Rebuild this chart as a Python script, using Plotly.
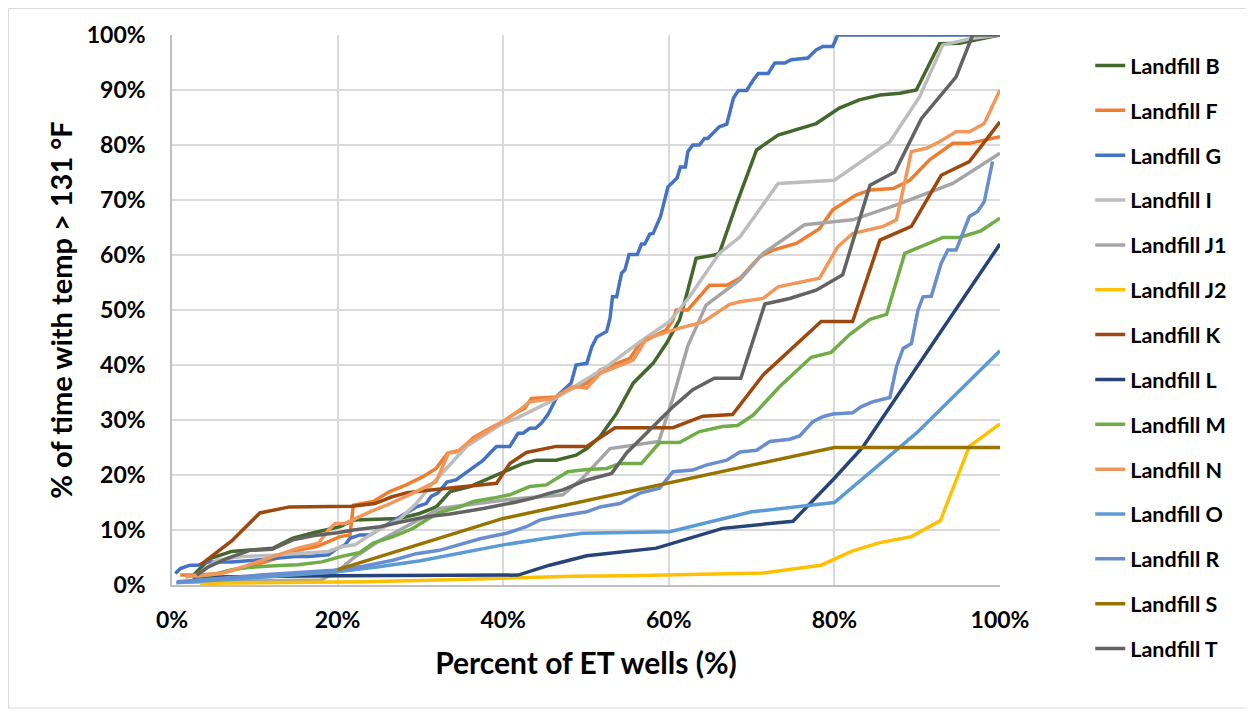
import plotly.graph_objects as go

# ---- data (x = percent of ET wells, y = % of time with temp > 131 F) ----
names = ["Landfill B", "Landfill F", "Landfill G", "Landfill I", "Landfill J1", "Landfill J2",
         "Landfill K", "Landfill L", "Landfill M", "Landfill N", "Landfill O", "Landfill R",
         "Landfill S", "Landfill T"]

colors = ["#43682B", "#ED7D31", "#4472C4", "#BDBDBD", "#A5A5A5", "#FFC000",
          "#9E480E", "#264478", "#70AD47", "#F1975A", "#5B9BD5", "#698ED0",
          "#997300", "#636363"]

b_x = [2.6, 4.6, 7.2, 12.2, 14.6, 17.1, 20.3, 21.9, 27.5, 29.9, 31.9, 33.6, 36.0, 38.8, 40.4, 42.4, 44.0, 46.4,
       48.8, 50.1, 51.7, 53.7, 55.7, 56.5, 58.1, 59.7, 61.3, 62.1, 63.3, 65.5, 66.1, 68.2, 70.6, 73.2, 77.8, 80.6,
       83.0, 85.5, 87.9, 89.9, 92.7, 95.1, 100]
b_y = [1.8, 4.8, 6.1, 6.7, 8.5, 9.5, 10.6, 11.8, 12.1, 13.0, 14.2, 17.0, 17.9, 19.7, 20.9, 22.1, 22.7, 22.7,
       23.6, 24.8, 27.0, 31.2, 36.7, 37.9, 40.3, 43.9, 48.2, 52.5, 59.4, 60.0, 60.3, 69.4, 79.1, 81.8, 83.9, 86.7,
       88.2, 89.1, 89.4, 90.0, 98.4, 98.5, 100]

f_x = [1.0, 3.2, 5.8, 10.6, 13.4, 15.4, 17.5, 20.3, 21.5, 21.9, 24.3, 26.3, 28.3, 30.3, 31.9, 33.3, 34.8, 36.4,
       38.4, 40.0, 41.4, 42.6, 43.4, 46.4, 48.4, 50.1, 51.7, 53.3, 55.3, 56.5, 59.7, 60.5, 60.9, 62.3, 64.9, 67.0,
       68.6, 71.0, 72.6, 75.4, 78.2, 79.8, 82.6, 84.3, 87.1, 89.1, 91.5, 94.3, 96.3, 100]
f_y = [1.8, 1.8, 2.1, 3.9, 5.2, 6.4, 7.0, 8.8, 9.1, 14.5, 15.2, 17.0, 18.2, 19.7, 21.2, 24.0, 24.5, 26.8,
       28.5, 29.7, 31.2, 32.1, 33.9, 34.2, 35.8, 36.7, 39.1, 40.0, 41.2, 43.9, 46.4, 48.2, 50.0, 50.0, 54.5, 54.5,
       55.8, 59.7, 60.9, 62.1, 64.8, 68.2, 70.9, 71.8, 72.1, 73.6, 77.3, 80.3, 80.3, 81.5]

g_x = [0.4, 1.0, 2.2, 3.2, 4.2, 7.2, 10.0, 12.4, 14.8, 16.5, 18.9, 19.7, 20.9, 21.5, 22.7, 23.9, 26.0, 28.5,
       29.5, 30.7, 31.3, 32.1, 33.2, 34.3, 35.4, 36.4, 37.6, 38.4, 39.2, 40.8, 41.8, 42.4, 43.2, 43.9, 44.6, 45.4,
       46.6, 48.2, 48.8, 50.1, 50.7, 51.3, 52.5, 52.9, 53.2, 53.7, 54.3, 54.7, 55.2, 56.2, 56.7, 57.1, 57.7, 58.1,
       59.0, 59.9, 61.0, 61.4, 62.0, 62.3, 62.9, 63.7, 64.3, 64.7, 65.3, 66.1, 67.0, 67.3, 67.8, 68.4, 69.4, 70.2,
       70.8, 72.0, 72.8, 74.0, 74.8, 76.8, 77.8, 78.6, 79.8, 80.4, 100]
g_y = [2.1, 3.0, 3.6, 3.6, 4.2, 4.2, 4.5, 4.8, 5.2, 5.2, 5.5, 6.4, 7.3, 8.5, 9.1, 9.1, 11.0, 13.3,
       14.2, 14.8, 16.1, 16.7, 18.7, 19.1, 20.3, 21.5, 22.7, 24.0, 25.2, 25.2, 27.6, 27.6, 28.5, 28.5, 29.4, 31.0,
       34.5, 36.7, 40.0, 40.3, 43.3, 45.1, 46.1, 48.5, 52.4, 52.4, 56.7, 57.3, 60.1, 60.1, 62.0, 62.0, 63.8, 63.9,
       67.0, 72.4, 74.0, 76.0, 76.0, 78.8, 80.0, 80.0, 81.2, 81.2, 82.1, 83.3, 83.8, 85.8, 88.5, 89.9, 89.9, 91.8,
       93.0, 93.0, 94.9, 94.9, 95.5, 95.8, 97.3, 97.9, 97.9, 100, 100]

i_x = [2.5, 5.4, 8.4, 12.2, 18.9, 20.5, 22.1, 24.3, 27.5, 29.5, 31.5, 35.6, 39.6, 41.6, 45.6, 52.5, 56.5, 60.1,
       62.5, 66.1, 68.6, 73.2, 80.0, 86.7, 90.3, 93.1, 96.7, 100]
i_y = [1.2, 4.5, 5.2, 5.4, 6.1, 7.0, 7.3, 9.5, 12.0, 14.8, 18.5, 25.2, 29.1, 30.3, 33.3, 39.7, 44.2, 47.9,
       52.4, 60.3, 63.3, 73.0, 73.6, 80.6, 88.8, 98.2, 99.4, 100]

j1_x = [1.0, 18.0, 20.0, 22.0, 25.0, 28.0, 30.0, 32.3, 40.4, 47.2, 49.5, 52.9, 56.5, 58.8, 60.5, 62.3, 64.5,
        68.6, 71.4, 76.4, 82.2, 87.5, 94.3, 100]
j1_y = [0.5, 0.9, 2.5, 5.0, 8.0, 10.5, 12.0, 13.9, 15.5, 16.4, 19.3, 24.8, 25.5, 26.1, 34.0, 43.5, 50.9,
        55.5, 60.3, 65.5, 66.4, 69.1, 73.0, 78.5]

j2_x = [3.4, 23.3, 32.3, 41.0, 48.4, 55.0, 60.0, 64.0, 68.6, 71.4, 75.0, 78.4, 82.2, 85.5, 89.3, 92.8, 96.3, 100]
j2_y = [0.3, 0.6, 0.9, 1.3, 1.6, 1.7, 1.9, 2.0, 2.2, 2.2, 2.9, 3.6, 6.2, 7.7, 8.8, 11.7, 25.2, 29.3]

k_x = [3.4, 7.2, 10.6, 14.2, 21.7, 24.5, 26.5, 28.4, 30.7, 34.8, 39.2, 40.8, 42.8, 46.4, 50.1, 53.5, 60.5, 64.1,
       67.7, 71.4, 75.0, 78.4, 82.2, 85.5, 89.3, 92.9, 96.3, 100]
k_y = [3.6, 8.0, 13.1, 14.2, 14.3, 14.8, 16.0, 16.8, 17.2, 17.8, 18.5, 22.1, 24.1, 25.2, 25.2, 28.6, 28.6, 30.7,
       31.0, 38.2, 43.3, 47.9, 47.9, 62.7, 65.2, 74.5, 77.0, 84.2]

l_x = [2.5, 20.0, 41.8, 45.6, 50.1, 58.5, 66.5, 68.6, 75.0, 80.0, 83.4, 100]
l_y = [1.4, 1.7, 1.8, 3.6, 5.3, 6.7, 10.3, 10.6, 11.6, 19.4, 25.0, 62.0]

m_x = [2.8, 5.0, 7.2, 9.2, 12.4, 15.2, 18.1, 20.5, 22.7, 24.3, 26.7, 29.1, 30.7, 32.3, 34.8, 36.4, 38.8, 40.8,
       43.2, 45.2, 47.8, 50.1, 52.5, 54.1, 56.7, 58.9, 61.3, 63.7, 66.5, 68.3, 70.2, 73.4, 77.2, 79.6, 81.8, 84.3,
       86.3, 88.5, 93.1, 95.1, 97.7, 100]
m_y = [1.5, 1.9, 2.8, 3.2, 3.5, 3.7, 4.2, 5.2, 5.9, 7.6, 8.8, 10.3, 11.8, 13.2, 14.2, 15.2, 15.8, 16.4,
       17.9, 18.2, 20.6, 21.0, 21.2, 22.1, 22.1, 25.9, 25.9, 27.9, 28.8, 29.0, 30.9, 36.1, 41.4, 42.3, 45.5, 48.3,
       49.2, 60.3, 63.2, 63.2, 64.4, 66.7]

n_x = [1.6, 6.0, 9.2, 12.4, 15.2, 17.7, 18.9, 19.7, 20.9, 23.9, 25.9, 29.1, 31.9, 33.4, 34.4, 36.0, 38.0, 39.6,
       41.2, 43.2, 46.0, 48.4, 50.1, 51.7, 53.7, 55.7, 57.3, 61.3, 64.1, 67.3, 68.6, 71.4, 73.2, 78.2, 80.4, 82.2,
       85.9, 87.5, 89.3, 91.1, 92.7, 94.7, 96.3, 98.1, 100]
n_y = [1.5, 2.1, 3.6, 5.2, 6.7, 7.6, 10.0, 11.2, 11.2, 13.3, 14.5, 16.7, 18.8, 24.0, 24.2, 26.1, 27.9, 29.4,
       30.9, 33.3, 33.9, 36.1, 35.8, 38.5, 39.7, 40.9, 44.8, 46.7, 47.8, 51.0, 51.5, 52.1, 54.2, 55.8, 61.5, 63.9,
       65.2, 66.4, 78.8, 79.4, 80.6, 82.4, 82.4, 83.9, 90.0]

o_x = [0.5, 10.0, 19.9, 25.0, 30.0, 34.8, 40.0, 45.6, 49.6, 60.1, 66.1, 70.0, 80.0, 89.9, 100]
o_y = [0.4, 1.3, 2.4, 3.3, 4.4, 5.8, 7.3, 8.6, 9.4, 9.7, 11.8, 13.3, 15.0, 27.6, 42.6]

r_x = [0.6, 10.6, 19.5, 22.7, 26.7, 29.5, 32.3, 34.8, 37.2, 40.4, 42.8, 44.4, 46.4, 50.1, 51.7, 54.1, 56.5, 58.9,
       60.5, 62.9, 64.5, 67.0, 68.6, 70.6, 72.2, 74.6, 75.8, 77.4, 78.6, 79.8, 82.2, 83.2, 84.6, 86.7, 87.5, 88.3,
       89.3, 90.1, 90.7, 91.7, 92.9, 93.7, 94.7, 96.3, 97.3, 98.1, 99.1]
r_y = [0.6, 1.8, 2.7, 3.3, 4.5, 5.7, 6.3, 7.3, 8.4, 9.4, 10.6, 11.8, 12.4, 13.3, 14.2, 14.8, 16.7, 17.6,
       20.6, 20.9, 21.8, 22.7, 24.2, 24.5, 26.1, 26.5, 27.1, 29.7, 30.6, 31.1, 31.3, 32.4, 33.3, 34.1, 39.7, 43.0,
       43.9, 50.0, 52.4, 52.5, 58.5, 60.9, 60.9, 67.0, 67.9, 69.7, 77.0]

s_x = [20.0, 40.0, 80.0, 100]
s_y = [2.8, 12.1, 25.0, 25.0]

t_x = [3.0, 4.4, 6.6, 9.4, 12.1, 14.6, 17.2, 20.0, 21.9, 25.1, 27.5, 30.7, 33.6, 37.6, 41.6, 43.6, 45.6, 47.2,
       50.1, 53.1, 54.9, 57.3, 60.5, 62.9, 65.5, 68.7, 71.6, 74.6, 77.8, 81.0, 84.3, 87.3, 90.5, 94.7, 96.7, 100]
t_y = [1.8, 3.3, 4.8, 6.3, 6.5, 8.2, 9.0, 9.5, 10.0, 10.6, 11.4, 12.4, 12.9, 13.9, 15.1, 15.8, 16.7, 17.3,
       19.1, 20.3, 24.0, 27.6, 32.4, 35.5, 37.6, 37.6, 51.1, 52.1, 53.6, 56.4, 72.7, 75.1, 84.8, 92.4, 100, 100]

series_x = [b_x, f_x, g_x, i_x, j1_x, j2_x, k_x, l_x, m_x, n_x, o_x, r_x, s_x, t_x]
series_y = [b_y, f_y, g_y, i_y, j1_y, j2_y, k_y, l_y, m_y, n_y, o_y, r_y, s_y, t_y]

x_ticks = [0, 20, 40, 60, 80, 100]
y_ticks = [0, 10, 20, 30, 40, 50, 60, 70, 80, 90, 100]

FONT = "Lato"
W, H = 1245, 705   # page adds an 8px body margin
L, T = 164, 27
PW, PH = 828.5, 550

fig = go.Figure()
for nm, col, xs, ys in zip(names, colors, series_x, series_y):
    fig.add_trace(go.Scatter(
        x=xs, y=ys, mode="lines", name=nm, legendgroup=nm,
        line=dict(color=col, width=3.5), cliponaxis=False,
    ))

fig.update_layout(
    width=W, height=H,
    margin=dict(l=L, r=W - L - PW, t=T, b=H - T - PH, autoexpand=False),
    paper_bgcolor="white", plot_bgcolor="white",
    font=dict(family=FONT, color="black", size=18, weight="bold"),
    showlegend=True,
    legend=dict(
        x=1.109, y=1 - 37 / H, xanchor="left", yanchor="top", yref="container",
        maxheight=1,
        bgcolor="rgba(0,0,0,0)", borderwidth=0,
        font=dict(family=FONT, size=21.5, color="black", weight="bold"),
        tracegroupgap=13.9,
    ),
    shapes=[dict(type="rect", xref="paper", yref="paper",
                 x0=(0.5 - L) / PW, x1=(1240 - L) / PW,
                 y0=(T + PH - 700) / PH, y1=(T + PH - 0.5) / PH,
                 line=dict(color="#D9D9D9", width=1), layer="below")],
)

fig.update_xaxes(
    range=[0, 100], tickvals=x_ticks, ticktext=[f"{v}%" for v in x_ticks],
    showgrid=True, gridcolor="#D9D9D9", gridwidth=1.5,
    showline=True, linecolor="#BFBFBF", linewidth=1.5,
    zeroline=False, ticks="", ticklabelstandoff=14, automargin=False,
    tickfont=dict(family=FONT, size=23, weight="bold"),
    title=dict(text="Percent of ET wells (%)", font=dict(family=FONT, size=30, weight="bold"), standoff=21),
)
fig.update_yaxes(
    range=[0, 100], tickvals=y_ticks, ticktext=[f"{v}%" for v in y_ticks],
    showgrid=True, gridcolor="#D9D9D9", gridwidth=1.5,
    showline=True, linecolor="#BFBFBF", linewidth=1.5,
    zeroline=False, ticks="", ticklabelstandoff=20, automargin=False,
    tickfont=dict(family=FONT, size=23, weight="bold"),
    title=dict(text="% of time with temp > 131 °F", font=dict(family=FONT, size=29, weight="bold"), standoff=6),
)

fig.write_html("out.html")
